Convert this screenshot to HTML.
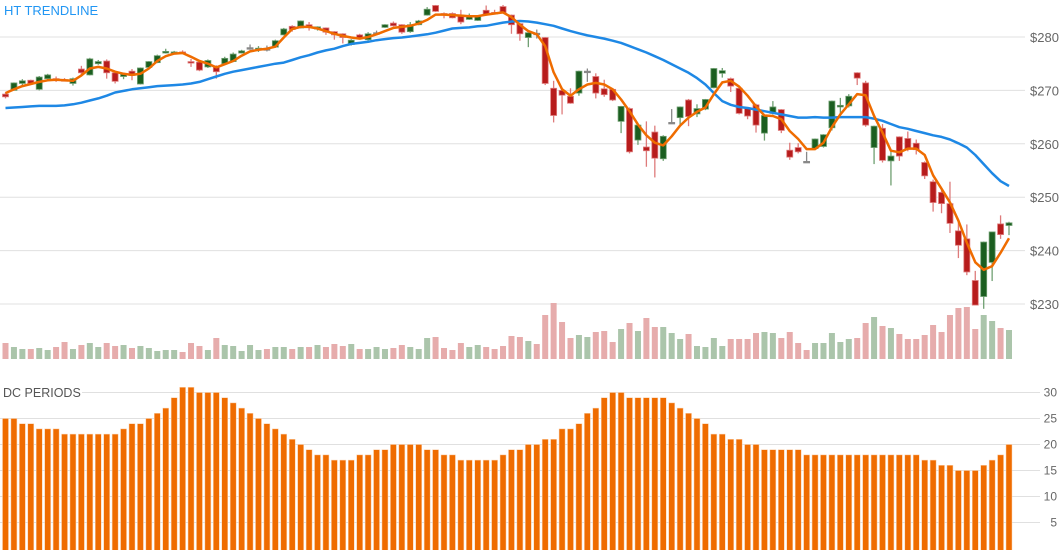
<!DOCTYPE html>
<html><head><meta charset="utf-8"><style>
html,body{margin:0;padding:0;background:#fff;}
svg{display:block;font-family:"Liberation Sans",sans-serif;}
</style></head><body>
<svg id="chart" width="1061" height="550" viewBox="0 0 1061 550">
<g id="grid"></g><g id="vol"></g><g id="lines-back"></g><g id="candles"></g><g id="lines"></g><g id="dc"></g><g id="labels"></g>
</svg>
<script>
const openP=[269.3,270.0,271.3,271.9,270.2,272.2,272.2,272.0,271.3,274.0,272.9,275.0,275.5,273.3,272.6,273.6,271.2,274.3,275.2,277.0,277.0,277.2,275.4,275.3,274.4,274.5,275.0,275.4,277.0,278.0,277.6,277.8,278.1,280.4,282.0,281.7,282.3,281.5,281.7,281.0,280.6,278.6,280.4,279.5,280.8,281.8,282.6,282.3,281.0,282.3,284.1,285.9,284.4,284.4,284.1,283.3,283.1,285.0,284.6,285.7,284.1,282.5,279.9,280.7,279.9,270.4,270.0,268.9,269.5,273.6,272.6,270.3,270.2,264.2,266.6,260.7,259.4,262.2,257.2,264.0,264.9,268.2,265.6,266.5,270.5,273.2,272.2,270.4,266.6,267.3,262.0,265.7,266.4,258.8,259.3,256.7,259.1,259.5,263.0,266.9,267.1,273.3,271.4,259.3,262.9,256.8,261.3,261.0,260.1,256.5,252.9,250.9,248.8,243.7,242.2,234.4,231.4,237.8,245.0,244.7];
const highP=[269.6,271.5,272.1,272.0,272.7,273.1,272.6,272.3,272.4,274.6,276.1,275.7,275.8,273.4,273.3,274.0,274.3,275.5,276.7,277.8,277.4,277.5,275.9,275.5,275.8,274.7,276.3,277.1,277.6,278.6,278.3,278.4,279.5,281.7,282.2,283.1,282.8,282.0,281.8,281.1,280.7,279.6,280.6,280.9,281.2,282.4,282.9,282.4,282.8,283.2,285.6,286.0,284.6,284.6,285.1,284.4,284.1,285.9,285.1,286.0,284.2,282.6,281.0,281.4,280.0,271.8,270.3,270.4,273.7,274.1,273.2,272.0,270.4,267.1,266.8,263.6,264.2,263.4,261.6,266.5,267.0,268.4,267.4,268.4,274.2,274.2,272.4,270.6,266.8,267.5,265.4,268.0,266.5,260.2,260.1,258.5,261.0,261.8,268.1,268.6,269.3,273.4,271.8,263.4,263.7,258.6,261.4,262.3,260.8,256.7,253.3,251.3,252.9,245.4,244.9,236.2,241.7,243.5,246.6,245.4];
const lowP=[268.5,270.0,271.0,271.2,270.0,272.0,271.6,271.8,270.9,272.6,272.8,274.8,272.2,271.3,272.1,271.9,271.1,274.2,275.1,276.9,276.9,276.8,274.4,273.6,274.2,272.2,274.9,275.3,276.9,277.6,277.2,277.3,278.0,280.3,281.0,281.6,281.2,281.2,280.4,279.5,278.8,278.4,279.6,279.3,280.3,281.7,282.0,280.6,280.8,282.2,284.0,284.7,283.5,283.5,282.4,283.2,283.0,284.0,284.3,284.4,280.6,279.3,278.1,279.7,271.0,264.0,265.5,267.5,269.0,271.6,268.5,268.8,268.0,262.0,258.2,259.8,255.7,253.7,256.8,263.8,263.5,263.3,265.0,266.3,270.4,272.4,269.7,265.5,264.6,262.1,260.6,265.5,262.0,257.0,258.2,256.6,259.0,259.3,262.5,265.6,266.8,271.0,263.2,256.2,256.5,252.2,256.8,258.6,258.0,253.4,247.3,247.0,243.3,238.6,235.4,229.8,229.1,234.3,242.2,242.9];
const closeP=[268.8,271.4,271.8,271.3,272.5,272.9,271.9,271.9,272.2,273.3,275.9,275.4,273.3,271.7,273.0,272.8,274.2,275.4,276.5,277.3,277.2,276.9,275.2,273.8,275.6,273.5,276.0,276.8,277.4,278.0,277.9,277.8,279.3,281.5,281.4,283.0,281.8,281.9,280.9,280.4,279.9,279.4,279.7,280.6,280.8,282.3,282.1,280.9,282.3,283.0,285.2,284.8,284.2,283.6,282.8,283.9,284.0,284.1,284.4,284.5,282.3,280.6,280.8,280.7,271.3,265.3,269.1,267.6,273.6,273.6,269.5,269.2,268.2,267.0,258.5,263.5,258.7,257.3,261.4,264.0,266.9,265.1,266.6,268.3,274.1,273.7,270.8,265.7,265.2,263.5,265.3,266.9,262.5,257.5,258.5,256.7,260.9,261.7,268.0,267.2,268.9,272.3,263.5,263.3,256.9,257.7,257.7,259.0,258.9,254.0,249.0,248.8,245.1,241.0,236.0,229.8,241.6,243.5,243.0,245.2];
const volumeM=[16,12,10,10,11,9,12,17,10,14,16,12,16,13,14,11,13,11,8,9,9,7,16,13,9,21,14,13,8,14,9,10,12,12,10,12,12,14,12,15,13,15,10,10,12,10,11,14,12,10,21,22,11,9,16,12,14,12,10,13,23,22,18,15,44,56,37,21,24,22,27,28,17,30,36,28,41,32,32,26,20,25,13,12,21,13,20,20,20,26,27,26,21,27,16,9,16,16,26,17,20,21,36,42,33,31,25,20,20,24,34,27,44,51,52,30,44,38,31,29];
const smoothP=[269.5,270.2,270.8,271.2,271.6,271.9,272.0,271.9,271.8,272.8,274.1,274.4,274.1,273.5,273.1,272.9,273.1,274.1,275.5,276.4,276.9,277.0,276.3,275.5,275.0,274.3,274.9,275.5,276.5,277.3,277.6,277.8,278.2,279.9,281.5,281.9,281.9,281.6,281.1,280.6,280.2,279.9,279.7,280.0,280.5,281.1,281.7,281.9,282.1,282.5,283.2,284.2,284.2,284.1,284.0,283.9,283.9,284.2,284.4,284.6,283.7,282.3,281.1,280.5,278.3,273.4,270.2,269.0,270.2,271.1,271.4,271.1,270.2,268.3,266.1,263.6,261.6,260.2,259.7,261.4,263.4,264.9,266.0,266.8,269.3,271.5,271.8,270.7,269.0,267.0,265.3,265.2,264.6,262.4,260.9,259.0,259.0,260.2,263.1,265.5,267.4,269.3,269.1,265.2,262.1,258.7,258.4,259.1,259.1,257.9,254.1,251.6,249.0,245.6,241.5,237.8,236.4,237.1,239.6,242.3];
const htTrend=[266.7,266.8,266.9,267.0,267.1,267.1,267.1,267.2,267.4,267.7,268.1,268.5,269.0,269.6,269.9,270.2,270.4,270.6,270.8,270.9,271.0,271.1,271.3,271.6,272.1,272.6,273.1,273.5,273.8,274.1,274.4,274.7,275.0,275.2,275.7,276.2,276.6,277.1,277.5,277.8,278.3,278.7,278.9,279.1,279.4,279.6,279.8,279.9,280.1,280.3,280.5,280.8,281.2,281.6,281.7,281.8,282.0,282.1,282.4,282.7,282.9,283.0,282.9,282.7,282.4,282.1,281.6,281.1,280.7,280.3,280.0,279.7,279.3,278.9,278.3,277.7,277.1,276.4,275.7,274.9,274.1,273.3,272.3,271.1,269.5,268.0,267.3,266.9,266.7,266.4,266.1,265.8,265.5,265.2,264.9,264.9,265.0,264.9,264.9,265.0,265.0,265.0,265.0,264.7,264.3,263.7,263.1,262.8,262.4,262.0,261.6,261.3,260.8,260.1,259.3,257.9,256.2,254.5,253.0,252.1];
const dcPeriods=[25,25,24,24,23,23,23,22,22,22,22,22,22,22,23,24,24,25,26,27,29,31,31,30,30,30,29,28,27,26,25,24,23,22,21,20,19,18,18,17,17,17,18,18,19,19,20,20,20,20,19,19,18,18,17,17,17,17,17,18,19,19,20,20,21,21,23,23,24,26,27,29,30,30,29,29,29,29,29,28,27,26,25,24,22,22,21,21,20,20,19,19,19,19,19,18,18,18,18,18,18,18,18,18,18,18,18,18,18,17,17,16,16,15,15,15,16,17,18,20];
const priceTicks=[280,270,260,250,240,230];
const dcTicks=[30,25,20,15,10,5];

const NS='http://www.w3.org/2000/svg';
function mk(tag,attrs,parent){const e=document.createElementNS(NS,tag);for(const k in attrs)e.setAttribute(k,attrs[k]);parent.appendChild(e);return e;}
const N=closeP.length;
const xOf=i=>5.5+i*(1003.5/(N-1));
const yP=v=>37+(280-v)*5.34;
const yV=v=>359-v*1.0;
const yD=v=>548.5-v*5.2;
const G=id=>document.getElementById(id);

// grid + labels
priceTicks.forEach(t=>{
  const l=mk('line',{x1:0,x2:1025,y1:yP(t),y2:yP(t),stroke:'#e0e0e0','stroke-width':1},G('grid'));
  
  
  const tx=mk('text',{x:1030,y:yP(t)+5,'font-size':13,fill:'#666'},G('labels'));
  tx.textContent='$'+t;
  
  
});
dcTicks.forEach(t=>{
  const l=mk('line',{x1:0,x2:1040,y1:yD(t),y2:yD(t),stroke:'#e0e0e0','stroke-width':1},G('grid'));
  
  
  const tx=mk('text',{x:1057,y:yD(t)+4,'font-size':12,fill:'#666','text-anchor':'end'},G('labels'));
  tx.textContent=t;
  
  
});

// volume
for(let i=0;i<N;i++){
  const up=closeP[i]>openP[i]||(closeP[i]===openP[i]&&(i===0||closeP[i]>=closeP[i-1]));
  const r=mk('rect',{x:xOf(i)-3,y:yV(volumeM[i]),width:6,height:359-yV(volumeM[i]),fill:up?'#abc5ab':'#e6acac'},G('vol'));
  
  
}
// candles
for(let i=0;i<N;i++){
  const o=openP[i],c=closeP[i];
  let fill,st;
  if(Math.abs(c-o)<0.05){fill='#888';st='#888';}
  else if(c>o){fill='#1b5e20';st='#6f9f71';}
  else{fill='#b71c1c';st='#de7b7b';}
  const g=mk('g',{},G('candles'));
  
  
  mk('line',{x1:xOf(i),x2:xOf(i),y1:yP(highP[i]),y2:yP(lowP[i]),stroke:st,'stroke-width':1.3},g);
  const top=yP(Math.max(o,c)),h=Math.max(1.5,yP(Math.min(o,c))-top);
  mk('rect',{x:xOf(i)-3,y:top,width:6,height:h,fill:fill,stroke:st,'stroke-width':0.8},g);
}
// lines
function path(arr,col,name){
  const d=arr.map((v,i)=>(i?'L':'M')+xOf(i).toFixed(1)+','+yP(v).toFixed(1)).join('');
  const p=mk('path',{d:d,fill:'none',stroke:col,'stroke-width':2.5,'stroke-linejoin':'round'},G('lines'));
  
  
}
path(htTrend,'#1e88e5','ht-trendline');
path(smoothP,'#ef6c00','smoothed-price-line');
// dc periods
for(let i=0;i<N;i++){
  const r=mk('rect',{x:xOf(i)-3,y:yD(dcPeriods[i]),width:6,height:548.5-yD(dcPeriods[i])+2,fill:'#ef6c00',stroke:'#fbd3b0','stroke-width':0.5},G('dc'));
  
  
}
// titles
const t1=mk('text',{x:4,y:15,'font-size':13,fill:'#2196f3'},G('labels'));
t1.textContent='HT TRENDLINE';


const bg=mk('rect',{x:0,y:384,width:82,height:16,fill:'#fff'},G('labels'));


const t2=mk('text',{x:3,y:397,'font-size':12.5,fill:'#555'},G('labels'));
t2.textContent='DC PERIODS';


</script>
</body></html>
